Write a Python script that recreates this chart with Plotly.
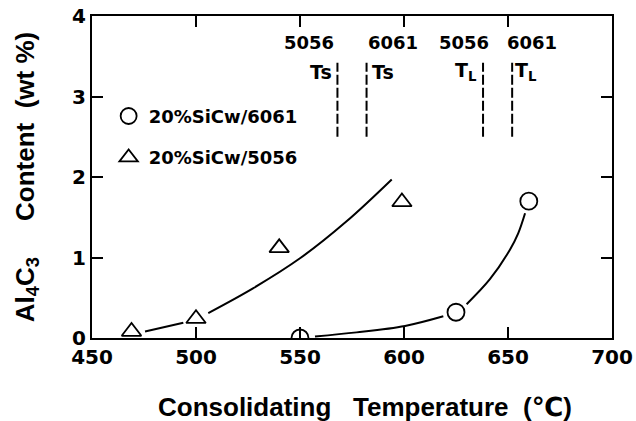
import plotly.graph_objects as go

# ---- data ----
temp_6061 = [550, 625, 660]
al4c3_6061 = [0.0, 0.32, 1.70]
temp_5056 = [469, 500, 540, 599]
al4c3_5056 = [0.08, 0.24, 1.12, 1.69]

# fitted curves (None = break near markers)
curve_5056_x = [475.5, 493.9, None, 505.9, 527.6, 550.0, 572.4, 594.1]
curve_5056_y = [0.08, 0.19, None, 0.31, 0.62, 0.99, 1.45, 1.97]
curve_6061_x = [557.2, 577.2, 600.5, 618.9, None, 630.1, 641.3, 651.0, 654.9, 658.2]
curve_6061_y = [0.02, 0.07, 0.15, 0.27, None, 0.42, 0.73, 1.10, 1.30, 1.55]

# solidus / liquidus temperatures
alloy_labels = ["5056", "6061", "5056", "6061"]
phase_labels = ["Ts", "Ts", "T<sub>L</sub>", "T<sub>L</sub>"]
phase_temps = [568, 582, 638, 652]
phase_y = [2.50, 3.42]

x_ticks = [450, 500, 550, 600, 650, 700]
y_ticks = [0, 1, 2, 3, 4]

FONT = "DejaVu Sans"
TFONT = "Liberation Sans, Arial, DejaVu Sans"
NB = "\u00a0"

fig = go.Figure()

fig.add_trace(go.Scatter(x=curve_5056_x, y=curve_5056_y, mode="lines",
                         line=dict(color="black", width=2, shape="spline"),
                         showlegend=False, connectgaps=False))
fig.add_trace(go.Scatter(x=curve_6061_x, y=curve_6061_y, mode="lines",
                         line=dict(color="black", width=2, shape="spline"),
                         showlegend=False, connectgaps=False))

for t in phase_temps:
    fig.add_trace(go.Scatter(x=[t, t], y=phase_y, mode="lines",
                             line=dict(color="black", width=2, dash="10px,3px"),
                             showlegend=False, hoverinfo="skip"))

fig.add_trace(go.Scatter(x=temp_6061, y=al4c3_6061, mode="markers",
                         name="20%SiCw/6061", legendgroup="a",
                         marker=dict(symbol="circle-open", size=17, color="black",
                                     line=dict(width=1.8, color="black"))))
fig.add_trace(go.Scatter(x=temp_5056, y=al4c3_5056, mode="markers",
                         name="20%SiCw/5056", legendgroup="b",
                         marker=dict(symbol="triangle-up-open", size=17, color="black",
                                     line=dict(width=1.8, color="black"))))

shifts_name = [-28, 26, -19, 20]
shifts_phase = [-16, 16, -17, 14]
for t, a, p, sn, sp in zip(phase_temps, alloy_labels, phase_labels, shifts_name, shifts_phase):
    fig.add_annotation(x=t, y=3.67, text=a, showarrow=False, xshift=sn,
                       font=dict(family=FONT, size=18, color="black", weight="bold"))
    fig.add_annotation(x=t, y=3.31, text=p, showarrow=False, xshift=sp,
                       font=dict(family=FONT, size=19, color="black", weight="bold"))

# x axis title (placed slightly right of centre, as in the original)
fig.add_annotation(xref="paper", yref="paper", x=0.525, y=-0.2155,
                   xanchor="center", yanchor="middle", showarrow=False,
                   text="Consolidating" + NB * 3 + "Temperature" + NB * 2 + "(℃)",
                   font=dict(family=TFONT, size=26, color="black", weight="bold"))

axis_common = dict(showline=True, linecolor="black", linewidth=2, mirror="ticks",
                   ticks="inside", ticklen=11, tickwidth=2, tickcolor="black",
                   showgrid=False, zeroline=False, automargin=False,
                   tickfont=dict(family=FONT, size=20, color="black", weight="bold"))

fig.update_layout(
    width=636, height=421,
    margin=dict(l=92, r=24, t=16, b=83),
    paper_bgcolor="white", plot_bgcolor="white",
    xaxis=dict(range=[450, 700], tickvals=x_ticks, **axis_common),
    yaxis=dict(range=[0, 4], tickvals=y_ticks, **axis_common,
               title=dict(text="Al<sub>4</sub>C<sub>3</sub>" + NB * 5 + "Content" + NB * 2 + "(wt" + NB + "%)",
                          standoff=30,
                          font=dict(family=TFONT, size=26, color="black", weight="bold"))),
    legend=dict(x=0.032, y=0.746, xanchor="left", yanchor="top",
                bgcolor="rgba(0,0,0,0)", traceorder="grouped", tracegroupgap=15,
                font=dict(family=FONT, size=18, color="black", weight="bold")),
)

fig.write_html("out.html")
